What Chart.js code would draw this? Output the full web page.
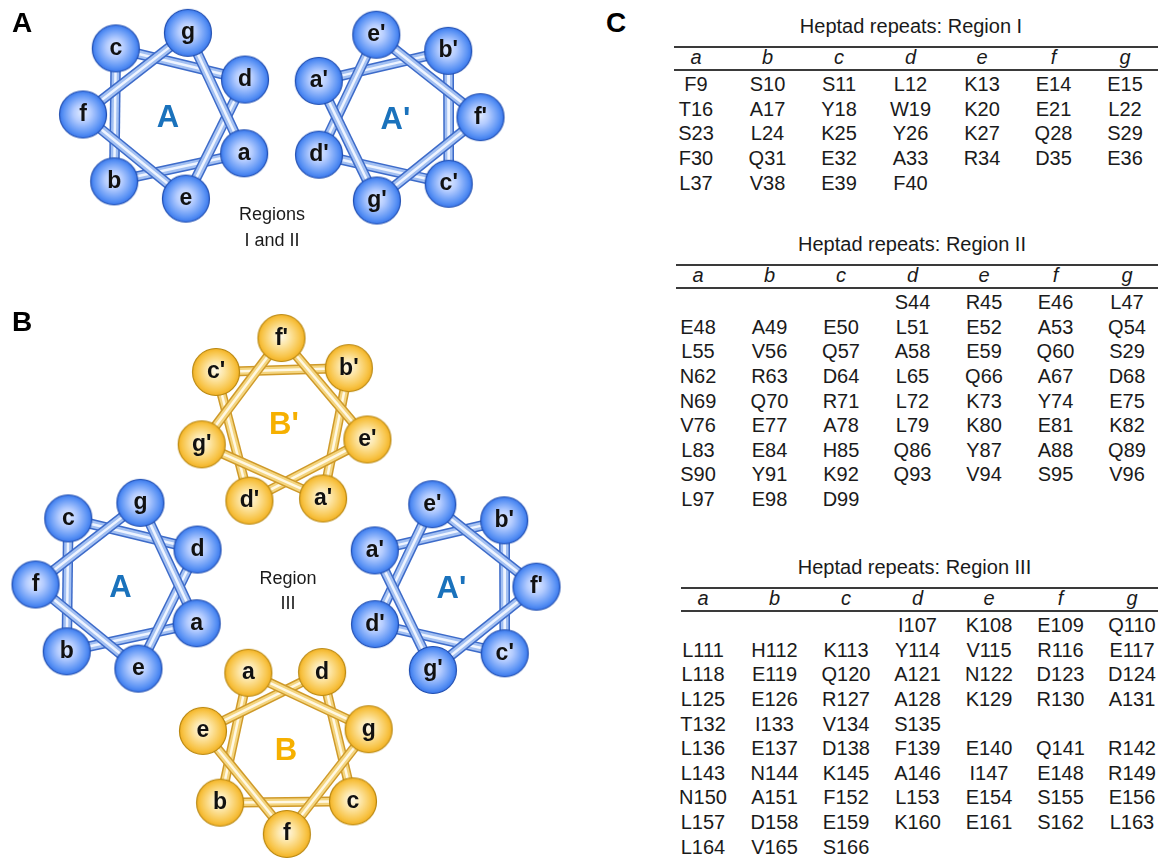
<!DOCTYPE html>
<html>
<head>
<meta charset="utf-8">
<script src="https://cdn.jsdelivr.net/npm/chart.js@4"></script>
<style>
  body { margin: 0; background: #fff; font-family: "Liberation Sans", Arial, sans-serif; }
  #page { position: relative; width: 1163px; height: 859px; overflow: hidden; }
  #wheelBox { position: absolute; left: 0; top: 0; width: 600px; height: 859px; }
  .t { position: absolute; white-space: nowrap; color: #1a1a1a; line-height: 1; }
  .rule { position: absolute; height: 2px; background: #3a3a3a; }
</style>
</head>
<body>
<div id="page">
  <div id="wheelBox"><canvas id="wheels"></canvas></div>
</div>
<script>
// heptad positions, in sequence order
const heptad = ['a', 'b', 'c', 'd', 'e', 'f', 'g'];

// the six helices drawn as wheels
const wheelNames = ['A', "A'", 'A', "A'", "B'", 'B'];
const wheelPrime = [false, true, false, true, true, false];
const wheelKind = ['blue', 'blue', 'blue', 'blue', 'gold', 'gold'];

// heptad tables (rows of a..g)
const regionI = [
  ['F9', 'S10', 'S11', 'L12', 'K13', 'E14', 'E15'],
  ['T16', 'A17', 'Y18', 'W19', 'K20', 'E21', 'L22'],
  ['S23', 'L24', 'K25', 'Y26', 'K27', 'Q28', 'S29'],
  ['F30', 'Q31', 'E32', 'A33', 'R34', 'D35', 'E36'],
  ['L37', 'V38', 'E39', 'F40', '', '', '']
];
const regionII = [
  ['', '', '', 'S44', 'R45', 'E46', 'L47'],
  ['E48', 'A49', 'E50', 'L51', 'E52', 'A53', 'Q54'],
  ['L55', 'V56', 'Q57', 'A58', 'E59', 'Q60', 'S29'],
  ['N62', 'R63', 'D64', 'L65', 'Q66', 'A67', 'D68'],
  ['N69', 'Q70', 'R71', 'L72', 'K73', 'Y74', 'E75'],
  ['V76', 'E77', 'A78', 'L79', 'K80', 'E81', 'K82'],
  ['L83', 'E84', 'H85', 'Q86', 'Y87', 'A88', 'Q89'],
  ['S90', 'Y91', 'K92', 'Q93', 'V94', 'S95', 'V96'],
  ['L97', 'E98', 'D99', '', '', '', '']
];
const regionIII = [
  ['', '', '', 'I107', 'K108', 'E109', 'Q110'],
  ['L111', 'H112', 'K113', 'Y114', 'V115', 'R116', 'E117'],
  ['L118', 'E119', 'Q120', 'A121', 'N122', 'D123', 'D124'],
  ['L125', 'E126', 'R127', 'A128', 'K129', 'R130', 'A131'],
  ['T132', 'I133', 'V134', 'S135', '', '', ''],
  ['L136', 'E137', 'D138', 'F139', 'E140', 'Q141', 'R142'],
  ['L143', 'N144', 'K145', 'A146', 'I147', 'E148', 'R149'],
  ['N150', 'A151', 'F152', 'L153', 'E154', 'S155', 'E156'],
  ['L157', 'D158', 'E159', 'K160', 'E161', 'S162', 'L163'],
  ['L164', 'V165', 'S166', '', '', '', '']
];

// ---- layout ----
const wheelLayout = [
  { cx: 168, cy: 115.5, start: 26.4, dir: 1 },
  { cx: 395.5, cy: 117.5, start: 205.5, dir: 1 },
  { cx: 120.5, cy: 585.5, start: 26.4, dir: 1 },
  { cx: 451.5, cy: 587, start: 205.5, dir: 1 },
  { cx: 284, cy: 423, start: 62.6, dir: -1 },
  { cx: 286, cy: 749, start: -116.3, dir: -1 }
];
const RADIUS = 85;
const STEP = 720 / 7;   // two heptagon corners per residue

const styles = {
  blue: { tube: ['#3d6bc9', '#a3c0f2', '#eef4ff'], widths: [10.5, 7.5, 2.5],
          ball: ['#e2ecff', '#b4ccff', '#5b93f5', '#2e6ee8'], edge: '#1f4db0', label: '#1a72bc' },
  gold: { tube: ['#cf9a2a', '#f4d57f', '#fff8e4'], widths: [10, 7, 2.5],
          ball: ['#fffaee', '#fde6a6', '#f8c447', '#f0ab18'], edge: '#b9870f', label: '#f6b000' }
};

function wheelPoints(w) {
  const L = wheelLayout[w];
  return heptad.map((h, k) => {
    const ang = (L.start + L.dir * k * STEP) * Math.PI / 180;
    return { x: L.cx + RADIUS * Math.cos(ang), y: L.cy + RADIUS * Math.sin(ang),
             label: h + (wheelPrime[w] ? "'" : '') };
  });
}

function makeBall(kind) {
  const s = styles[kind];
  const c = document.createElement('canvas');
  c.width = 52; c.height = 52;
  const g = c.getContext('2d');
  const grad = g.createRadialGradient(25, 24, 0, 26, 26, 25);
  grad.addColorStop(0, s.ball[0]);
  grad.addColorStop(0.35, s.ball[1]);
  grad.addColorStop(0.78, s.ball[2]);
  grad.addColorStop(1, s.ball[3]);
  g.beginPath();
  g.arc(26, 26, 23.5, 0, Math.PI * 2);
  g.fillStyle = grad;
  g.fill();
  g.lineWidth = 1.2;
  g.strokeStyle = s.edge;
  g.stroke();
  return c;
}

const datasets = [];
let n = 0;
wheelNames.forEach((name, w) => {
  const pts = wheelPoints(w);
  const s = styles[wheelKind[w]];
  for (let k = 0; k < 7; k++) {
    const seg = [pts[k], pts[(k + 1) % 7]];
    for (let l = 0; l < 3; l++) {
      datasets.push({
        type: 'line', data: seg.map(p => ({ x: p.x, y: p.y })),
        borderColor: s.tube[l], borderWidth: s.widths[l], borderCapStyle: 'butt',
        pointRadius: 0, fill: false, tension: 0, clip: false, order: -(n++)
      });
    }
  }
});
['blue', 'gold'].forEach(kind => {
  const pts = [];
  wheelNames.forEach((name, w) => { if (wheelKind[w] === kind) pts.push(...wheelPoints(w)); });
  datasets.push({
    type: 'scatter', data: pts, isBall: true,
    pointStyle: makeBall(kind), pointRadius: 24, clip: false, order: -(n++)
  });
});

const labelPlugin = {
  id: 'labels',
  afterDatasetsDraw(chart) {
    const ctx = chart.ctx;
    const xs = chart.scales.x, ys = chart.scales.y;
    ctx.save();
    ctx.textAlign = 'center';
    ctx.textBaseline = 'alphabetic';
    ctx.fillStyle = '#111';
    ctx.font = 'bold 23px "Liberation Sans", Arial, sans-serif';
    chart.data.datasets.forEach((ds, i) => {
      if (!ds.isBall) return;
      chart.getDatasetMeta(i).data.forEach((el, j) => {
        ctx.fillText(ds.data[j].label, el.x, el.y + 6.5);
      });
    });
    ctx.font = 'bold 31px "Liberation Sans", Arial, sans-serif';
    wheelNames.forEach((name, w) => {
      const L = wheelLayout[w];
      ctx.fillStyle = styles[wheelKind[w]].label;
      ctx.fillText(name, xs.getPixelForValue(L.cx), ys.getPixelForValue(L.cy) + 11);
    });
    ctx.restore();
  }
};

new Chart(document.getElementById('wheels'), {
  data: { datasets: datasets },
  options: {
    responsive: true, maintainAspectRatio: false, animation: false,
    layout: { padding: 0, autoPadding: false },
    plugins: { legend: { display: false }, tooltip: { enabled: false } },
    scales: {
      x: { type: 'linear', min: 0, max: 600, display: false },
      y: { type: 'linear', min: 0, max: 859, reverse: true, display: false }
    }
  },
  plugins: [labelPlugin]
});

// ---- text and tables ----
const page = document.getElementById('page');
function addText(str, x, base, size, opt) {
  opt = opt || {};
  const d = document.createElement('div');
  d.className = 't';
  d.textContent = str;
  d.style.fontSize = size + 'px';
  d.style.top = (base - 0.8465 * size) + 'px';
  if (opt.bold) d.style.fontWeight = 'bold';
  if (opt.italic) d.style.fontStyle = 'italic';
  if (opt.color) d.style.color = opt.color;
  if (opt.left) d.style.left = x + 'px';
  else { d.style.left = x + 'px'; d.style.transform = 'translateX(-50%)'; }
  page.appendChild(d);
}
function addRule(x1, x2, y) {
  const r = document.createElement('div');
  r.className = 'rule';
  r.style.left = x1 + 'px'; r.style.width = (x2 - x1) + 'px'; r.style.top = (y - 1) + 'px';
  page.appendChild(r);
}

addText('A', 12, 33, 28, { bold: true, left: true, color: '#000' });
addText('B', 12, 332, 28, { bold: true, left: true, color: '#000' });
addText('C', 606, 33, 28, { bold: true, left: true, color: '#000' });
addText('Regions', 272, 220, 18);
addText('I and II', 272, 246, 18);
addText('Region', 288, 584, 18);
addText('III', 288, 609, 18);

const FS = 20;
function addTable(title, rows, left, top) {
  // top = centre of the title line
  const x0 = left + 22, dx = 71.5;
  addText(title, (left + 1158) / 2 - 5, top + 7.2, FS);
  addRule(left, 1158, top + 21);
  heptad.forEach((h, i) => addText(h, x0 + i * dx, top + 37.5, FS, { italic: true }));
  addRule(left, 1158, top + 44);
  rows.forEach((r, j) => {
    r.forEach((v, i) => { if (v) addText(v, x0 + i * dx, top + 58 + 7.2 + j * 24.6, FS); });
  });
}
addTable('Heptad repeats: Region I', regionI, 674, 26);
addTable('Heptad repeats: Region II', regionII, 676, 244);
addTable('Heptad repeats: Region III', regionIII, 681, 567);
</script>
</body>
</html>
